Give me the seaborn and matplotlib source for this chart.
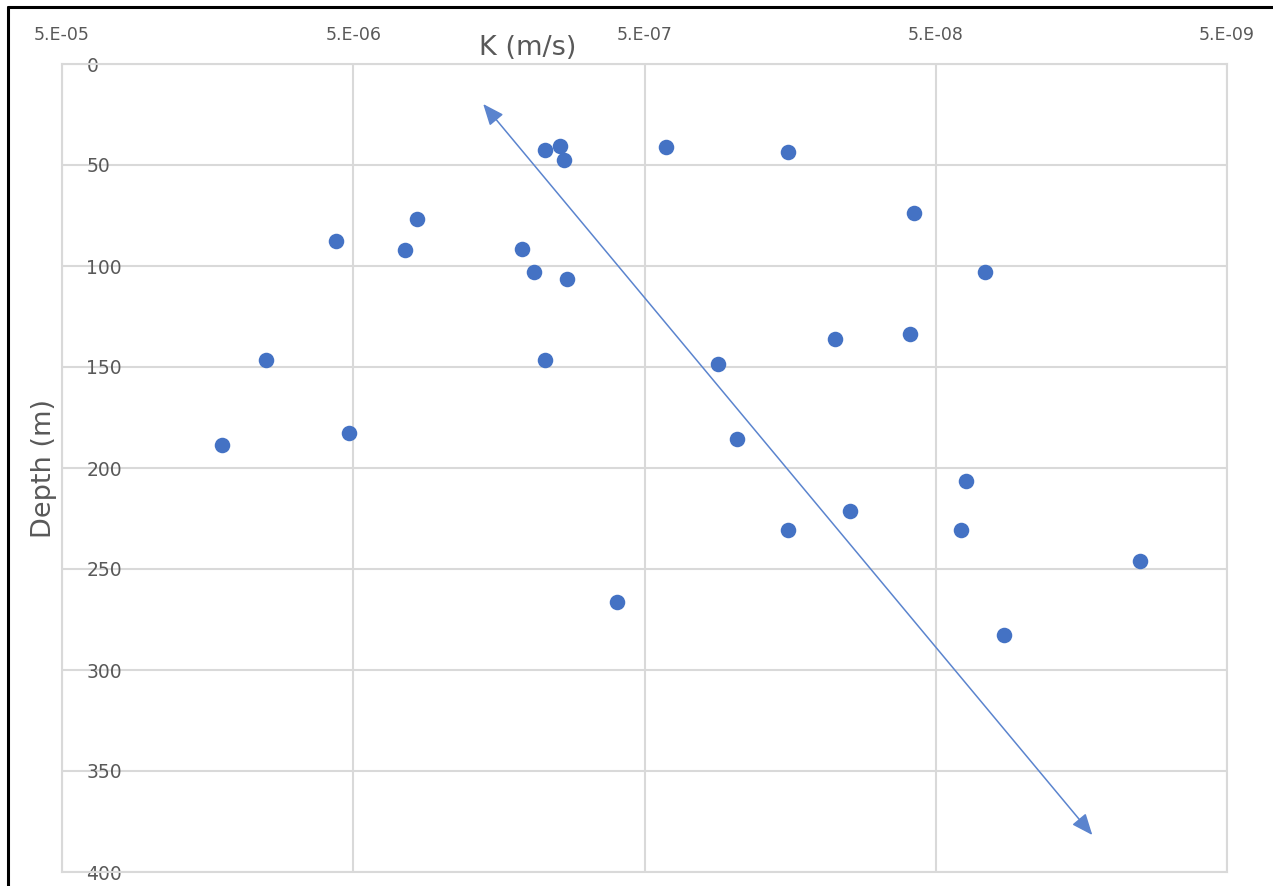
import numpy as np
import pandas as pd
import matplotlib
matplotlib.use("Agg")
import matplotlib.pyplot as plt
from matplotlib.lines import Line2D
import seaborn as sns

# --- data ---
k_values = [1.41e-5, 1.00e-5, 5.73e-6, 5.17e-6, 3.32e-6, 3.02e-6, 1.32e-6,
            1.20e-6, 1.10e-6, 9.75e-7, 9.45e-7, 9.23e-7, 1.10e-6, 6.21e-7,
            4.22e-7, 2.80e-7, 2.41e-7, 1.61e-7, 1.61e-7, 1.11e-7, 9.84e-8,
            6.13e-8, 5.94e-8, 4.09e-8, 3.94e-8, 3.39e-8, 2.92e-8, 9.95e-9]
depths = [188.4, 146.7, 87.7, 182.9, 92.2, 76.8, 91.7,
          103.1, 42.6, 40.6, 47.6, 106.6, 146.7, 266.2,
          41.1, 148.7, 185.4, 43.6, 230.5, 136.3, 221.1,
          133.8, 73.9, 230.5, 206.2, 103.1, 282.5, 245.8]

x_ticks = [5e-5, 5e-6, 5e-7, 5e-8, 5e-9]
x_tick_labels = ["5.E-05", "5.E-06", "5.E-07", "5.E-08", "5.E-09"]
y_ticks = [0, 50, 100, 150, 200, 250, 300, 350, 400]

# trend arrow end points (K, depth)
arrow_k = [1.79e-6, 1.45e-8]
arrow_depth = [19.8, 381.7]

df = pd.DataFrame({"K": k_values, "Depth": depths})

BLUE = "#4472C4"
ARROW = "#5B84CE"
GREY_TXT = "#595959"
GRID = "#D9D9D9"

sns.set_style("white")
plt.rcParams["font.family"] = ["DejaVu Sans"]

fig = plt.figure(figsize=(12.73, 8.86), dpi=100)
ax = fig.add_axes([62 / 1273, 1 - 872 / 886, (1227 - 62) / 1273, (872 - 64) / 886])

sns.scatterplot(data=df, x="K", y="Depth", ax=ax, color=BLUE, s=125,
                edgecolor=BLUE, linewidth=0, zorder=3)

ax.set_xscale("log")
ax.set_xlim(x_ticks[0], x_ticks[-1])
ax.set_ylim(400, 0)
ax.set_xticks(x_ticks)
ax.set_xticklabels(x_tick_labels)
ax.minorticks_off()
ax.set_yticks(y_ticks)
ax.set_yticklabels([str(v) for v in y_ticks])

ax.xaxis.tick_top()
ax.tick_params(axis="x", length=0, pad=14.6, labelsize=12.5, labelcolor=GREY_TXT)
ax.tick_params(axis="y", length=0, pad=-17.5, labelsize=13.5, labelcolor=GREY_TXT)
for lab in ax.get_yticklabels():
    lab.set_horizontalalignment("left")

ax.grid(True, color=GRID, linewidth=1.5)
ax.set_axisbelow(True)
for sp in ax.spines.values():
    sp.set_color(GRID)
    sp.set_linewidth(1.5)

ax.set_xlabel("K (m/s)", fontsize=19.5, color=GREY_TXT)
ax.xaxis.set_label_position("top")
ax.xaxis.set_label_coords(0.4, 1.011)
ax.set_ylabel("Depth (m)", fontsize=19.5, color=GREY_TXT)
ax.yaxis.set_label_coords(-0.004, 0.5)

ax.annotate("", xy=(arrow_k[0], arrow_depth[0]), xytext=(arrow_k[1], arrow_depth[1]),
            arrowprops=dict(arrowstyle="<|-|>,head_length=0.65,head_width=0.27",
                            color=ARROW, lw=1.1, mutation_scale=20,
                            shrinkA=0, shrinkB=0),
            zorder=2)

# screenshot frame edges (left and top)
fig.add_artist(Line2D([8 / 1273, 8 / 1273], [0, 1 - 7 / 886], color="black", lw=2.2))
fig.add_artist(Line2D([8 / 1273, 1], [1 - 7 / 886, 1 - 7 / 886], color="black", lw=2.2))

fig.savefig("out.png", dpi=100)
